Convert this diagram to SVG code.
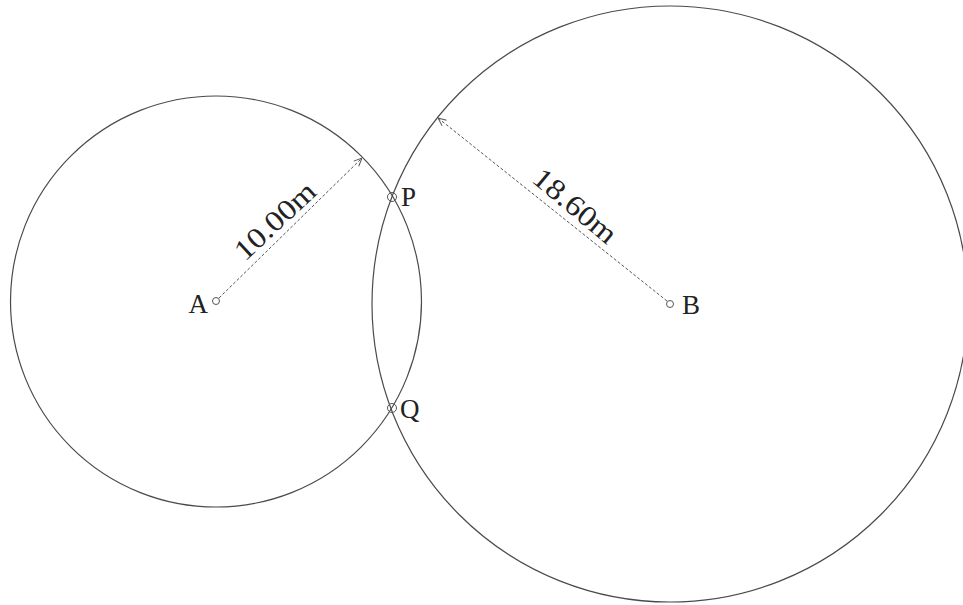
<svg xmlns="http://www.w3.org/2000/svg" width="963" height="605" viewBox="0 0 963 605">
<style>
.circ{fill:none;stroke:#4a4a4a;stroke-width:1.2}
.pt{fill:#fff;stroke:#555;stroke-width:1}
.dash{fill:none;stroke:#555;stroke-width:1;stroke-dasharray:3 2;marker-end:url(#arr)}
.lbl{font-family:"Liberation Serif","DejaVu Serif",serif;font-size:27px;fill:#222}
.dim{font-family:"Liberation Serif","DejaVu Serif",serif;font-size:29px;fill:#222;text-anchor:middle}
</style>
<defs>
<marker id="arr" viewBox="0 0 10 10" refX="10" refY="5" markerWidth="9" markerHeight="9" markerUnits="userSpaceOnUse" orient="auto">
<path d="M1,1 L10,5 L1,9" fill="none" stroke="#555" stroke-width="1.1"/>
</marker>
</defs>
<rect width="963" height="605" fill="#fff"/>
<g id="circleA"><circle class="circ" cx="216" cy="301.5" r="205.5"/></g>
<g id="circleB"><circle class="circ" cx="670" cy="304" r="298"/></g>
<g id="connectors">
<line class="dash" x1="219" y1="298" x2="362" y2="158"/>
<line class="dash" x1="667" y1="301" x2="438" y2="118"/>
</g>
<g id="dimA"><text class="dim" transform="translate(276,222) rotate(-43)" x="0" y="8" textLength="100" lengthAdjust="spacingAndGlyphs">10.00m</text></g>
<g id="dimB"><text class="dim" transform="translate(574,207) rotate(40)" x="0" y="8" textLength="100" lengthAdjust="spacingAndGlyphs">18.60m</text></g>
<g id="pointA"><circle class="pt" cx="216" cy="301" r="3.5"/><text class="lbl" x="208" y="313" text-anchor="end">A</text></g>
<g id="pointB"><circle class="pt" cx="670" cy="304" r="3.5"/><text class="lbl" x="682" y="314">B</text></g>
<g id="pointP"><circle class="pt" cx="392" cy="197" r="4.5" style="fill:none"/><text class="lbl" x="401" y="206">P</text></g>
<g id="pointQ"><circle class="pt" cx="392" cy="408" r="4.5" style="fill:none"/><text class="lbl" x="400" y="418">Q</text></g>
</svg>
